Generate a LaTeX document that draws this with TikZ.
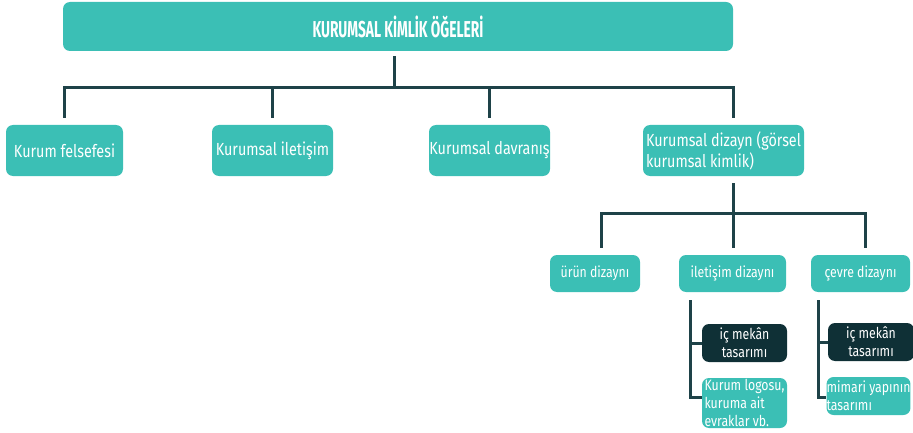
\documentclass[tikz,border=0pt]{standalone}
\usepackage{fontspec}
\setmainfont{Fira Sans}[FakeStretch=0.82]
\usepackage{graphicx}
\definecolor{teal1}{HTML}{3BBFB5}
\definecolor{dark1}{HTML}{0F3036}
\definecolor{line1}{HTML}{1E4248}
\tikzset{
  box/.style={fill=teal1, rounded corners=7pt, text=white, inner sep=0pt, align=center},
  dbox/.style={box, fill=dark1},
  f1/.style={font=\fontsize{17.5}{21}\selectfont},
  f2/.style={font=\fontsize{15}{18}\selectfont},
  f3/.style={font=\fontsize{15}{18}\selectfont},
  conn/.style={draw=line1, line width=3pt},
}
\begin{document}
\begin{tikzpicture}[x=1pt,y=-1pt]
\useasboundingbox (0,0) rectangle (913,433);
% nodes
\node[box, minimum width=670pt, minimum height=49pt] (title) at (398,26.5)
  {\fontsize{23}{25}\selectfont\scalebox{0.73}[1]{\bfseries KURUMSAL KİMLİK ÖĞELERİ}};
\node[box, f1, minimum width=117pt, minimum height=51pt] (n1) at (64.5,150.5) {Kurum felsefesi};
\node[box, f1, minimum width=121pt, minimum height=51pt] (n2) at (272.5,150.5) {Kurumsal iletişim};
\node[box, f1, minimum width=121pt, minimum height=51pt] (n3) at (489.5,150.5) {Kurumsal davranış};
\node[box, f1, minimum width=161pt, minimum height=51pt, align=left] (n4) at (723.5,150.5) {Kurumsal dizayn (görsel\\kurumsal kimlik)};
\node[box, f2, minimum width=90pt, minimum height=37pt] (m1) at (595,273.5) {ürün dizaynı};
\node[box, f2, minimum width=107pt, minimum height=37pt] (m2) at (732.5,273.5) {iletişim dizaynı};
\node[box, f2, minimum width=99pt, minimum height=37pt] (m3) at (860.5,273.5) {çevre dizaynı};
\node[dbox, f3, minimum width=85pt, minimum height=38pt] (d1) at (744.5,343) {iç mekân\\tasarımı};
\node[box, f3, minimum width=85pt, minimum height=50pt, align=left] (l1) at (744.5,403) {Kurum logosu,\\kuruma ait\\evraklar vb.};
\node[dbox, f3, minimum width=86pt, minimum height=38pt] (d2) at (871,342) {iç mekân\\tasarımı};
\node[box, f3, minimum width=83pt, minimum height=38pt, align=left] (l2) at (868.5,396) {mimari yapının\\tasarımı};
% coordinates
\coordinate (bus1) at (0,88);
\coordinate (x0) at (394,0);
\coordinate (x4) at (733,0);
\coordinate (bus2) at (0,213);
\coordinate (xm1) at (601,0);
\coordinate (xm3) at (865,0);
\coordinate (xa) at (690,0);
\coordinate (xb) at (818,0);
\coordinate (r1) at (0,397);
% level 1 connectors
\draw[conn, shorten <=5pt] (x0 |- title.south) -- (x0 |- bus1);
\draw[conn, shorten <=7pt, shorten >=7pt] (n1.north) -- (n1.north |- bus1) -- (x4 |- bus1) -- (x4 |- n4.north);
\draw[conn, shorten >=7pt] (n2.north |- bus1) -- (n2.north);
\draw[conn, shorten >=7pt] (n3.north |- bus1) -- (n3.north);
% level 2 connectors
\draw[conn, shorten <=7pt] (x4 |- n4.south) -- (x4 |- bus2);
\draw[conn, shorten <=7pt, shorten >=7pt] (xm1 |- m1.north) -- (xm1 |- bus2) -- (xm3 |- bus2) -- (xm3 |- m3.north);
\draw[conn, shorten >=7pt] (x4 |- bus2) -- (x4 |- m2.north);
% level 3 connectors
\draw[conn, shorten <=8pt] (xa |- m2.south) -- (xa |- r1) -- (l1.west |- r1);
\draw[conn] (xa |- d1.west) -- (d1.west);
\draw[conn, shorten <=8pt] (xb |- m3.south) -- (xb |- r1) -- (l2.west |- r1);
\draw[conn] (xb |- d2.west) -- (d2.west);
\end{tikzpicture}
\end{document}
